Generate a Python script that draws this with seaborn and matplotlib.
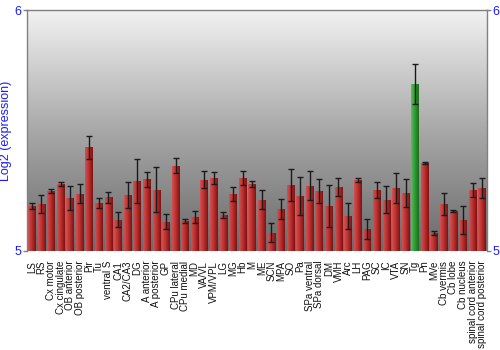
import numpy as np
import pandas as pd
import matplotlib
matplotlib.use("Agg")
import matplotlib.pyplot as plt
import seaborn as sns
from matplotlib.colors import LinearSegmentedColormap

regions = ["LS", "RS", "Cx motor", "Cx cingulate", "OB anterior", "OB posterior", "Pir", "Tu",
           "ventral S", "CA1", "CA2/CA3", "DG", "A anterior", "A posterior", "GP", "CPu lateral",
           "CPu medial", "MD", "VA/VL", "VPM/VPL", "LG", "MG", "Hb", "M", "ME", "SCN", "MPA",
           "SO", "Pa", "SPa ventral", "SPa dorsal", "DM", "VMH", "Arc", "LH", "PAG", "SC", "IC",
           "VTA", "SN", "Tg", "Pn", "MVe", "Cb vermis", "Cb lobe", "Cb nucleus",
           "spinal cord anterior", "spinal cord posterior"]
expression = [5.187, 5.195, 5.249, 5.278, 5.220, 5.237, 5.430, 5.199,
              5.222, 5.130, 5.232, 5.290, 5.297, 5.254, 5.122, 5.354,
              5.124, 5.140, 5.295, 5.302, 5.148, 5.237, 5.304, 5.278, 5.213, 5.076, 5.173,
              5.274, 5.228, 5.271, 5.249, 5.187, 5.266, 5.145, 5.293, 5.090, 5.253, 5.213,
              5.261, 5.241, 5.693, 5.365, 5.075, 5.195, 5.166, 5.129,
              5.253, 5.261]
error = [0.011, 0.037, 0.010, 0.007, 0.048, 0.039, 0.048, 0.022,
         0.021, 0.030, 0.054, 0.090, 0.030, 0.094, 0.030, 0.032,
         0.010, 0.025, 0.035, 0.025, 0.012, 0.028, 0.029, 0.014, 0.039, 0.039, 0.041,
         0.065, 0.080, 0.059, 0.051, 0.086, 0.039, 0.053, 0.008, 0.041, 0.032, 0.057,
         0.061, 0.057, 0.083, 0.003, 0.008, 0.045, 0.006, 0.057,
         0.029, 0.041]
highlight = "Tg"

df = pd.DataFrame({"region": regions, "expression": expression, "error": error})
df["group"] = np.where(df["region"] == highlight, "hi", "lo")

sns.set_theme(style="white")
plt.rcParams["font.family"] = ["Liberation Sans", "DejaVu Sans"]

fig = plt.figure(figsize=(5, 3.5), dpi=100)
ax = fig.add_axes([0.054, 0.283, 0.920, 0.688])

sns.barplot(data=df, x="region", y="expression", hue="group",
            palette={"hi": "#3a9a3a", "lo": "#b83030"}, dodge=False,
            legend=False, width=0.8, ax=ax, linewidth=0, bottom=0)

ax.set_ylim(5, 6)
ax.set_xlim(-0.5, len(regions) - 0.5)

# background vertical gradient
bg = LinearSegmentedColormap.from_list("bg", ["#f2f2f2", "#a8a8a8", "#6a6a6a"])
grad = np.linspace(0, 1, 256).reshape(-1, 1)
ax.imshow(grad, cmap=bg, extent=[0, 1, 0, 1], transform=ax.transAxes,
          aspect="auto", zorder=0, origin="upper")

# horizontal gradient on bars
red_cm = LinearSegmentedColormap.from_list("r", ["#d45050", "#c43a3a", "#a82424", "#7a1414"])
green_cm = LinearSegmentedColormap.from_list("g", ["#5cc05c", "#3aa63a", "#2a8a2a", "#1c6a1c"])
hgrad = np.linspace(0, 1, 64).reshape(1, -1)
groups = list(df["group"])
for p in list(ax.patches):
    x0, y0 = p.get_x(), p.get_y()
    w, h = p.get_width(), p.get_height()
    if not np.isfinite(h) or h == 0:
        continue
    idx = int(round(x0 + w / 2))
    cm = green_cm if groups[idx] == "hi" else red_cm
    im = ax.imshow(hgrad, cmap=cm, extent=[x0, x0 + w, 5, y0 + h],
                   aspect="auto", zorder=2)
    im.set_clip_path(p)

ax.errorbar(np.arange(len(regions)), df["expression"], yerr=df["error"],
            fmt="none", ecolor="#1a1a1a", elinewidth=1, capsize=2.5, capthick=1, zorder=3)

ax.set_ylim(5, 6)
ax.set_xlim(-0.5, len(regions) - 0.5)
ax.set_yticks([5, 6])
ax.set_yticklabels(["5", "6"])
ax.tick_params(axis="y", colors="#808080", labelcolor="#1a1aff", labelsize=9,
               left=True, right=True, labelleft=True, labelright=True, length=3, width=1, pad=1)
ax.tick_params(axis="x", bottom=False, labelsize=7, labelrotation=90, pad=1, colors="#111111")
for lbl in ax.get_xticklabels():
    lbl.set_verticalalignment("top")
ax.set_xlabel("")
ax.set_ylabel("Log2 (expression)", color="#1a1aff", fontsize=9, labelpad=2)
for s in ["left", "right", "top"]:
    ax.spines[s].set_visible(True)
    ax.spines[s].set_color("#808080")
    ax.spines[s].set_linewidth(1)
ax.spines["bottom"].set_visible(False)

fig.savefig("out.png", dpi=100)
